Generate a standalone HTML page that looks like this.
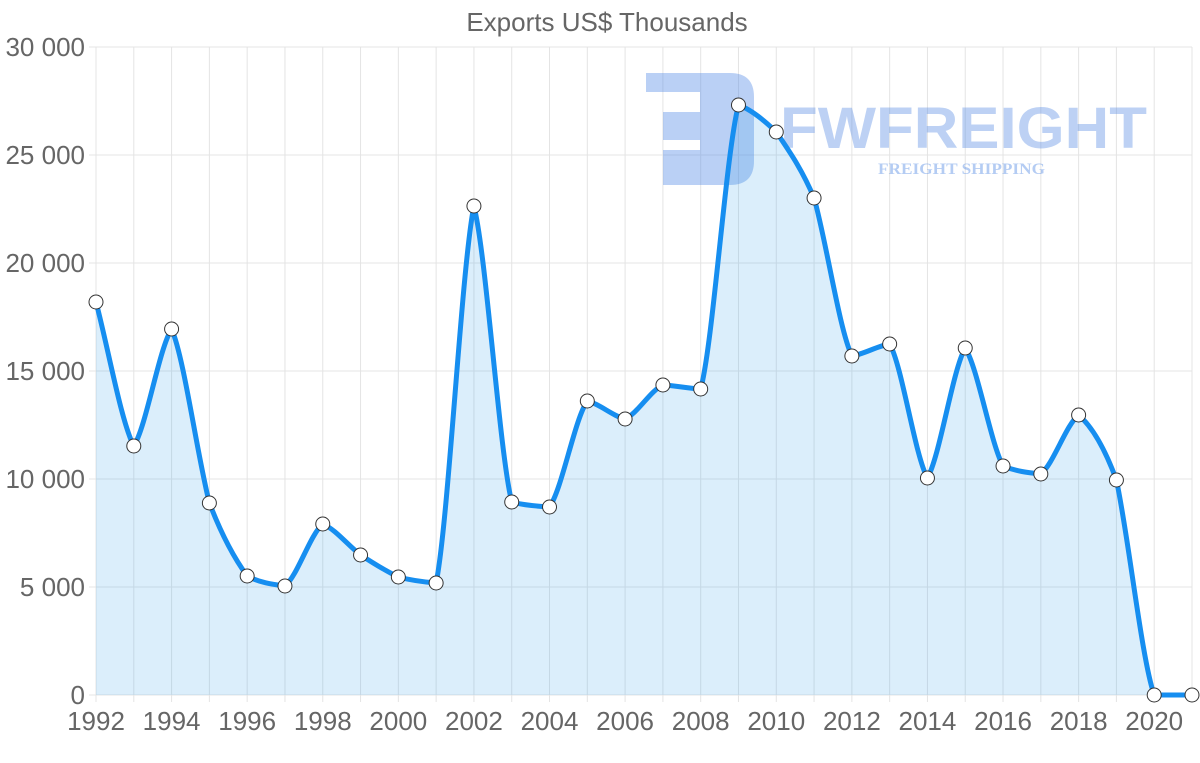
<!DOCTYPE html>
<html><head><meta charset="utf-8"><style>html,body{margin:0;padding:0;background:#fff}svg{display:block}</style></head>
<body>
<svg id="s" width="1200" height="763" xmlns="http://www.w3.org/2000/svg" font-family="Liberation Sans, sans-serif">
<rect width="1200" height="763" fill="#fff"/>
<text x="607" y="31" text-anchor="middle" font-size="26" fill="#666">Exports US$ Thousands</text>
<g stroke="#e4e4e4" stroke-width="1" id="grid"></g>
<g id="ylab" font-size="26" fill="#666" text-anchor="end"></g>
<g id="xlab" font-size="26" fill="#666" text-anchor="middle"></g>
<g fill="#5b8fe6" opacity="0.42">
<path d="M646 73 H730 Q754 73 754 97 V161 Q754 185 730 185 H663 V150 H700 V140 H663 V112 H700 V92 H646 Z"/>
</g>
<text x="780" y="148" font-size="58" font-weight="bold" fill="#5b8fe6" opacity="0.4" textLength="367" lengthAdjust="spacingAndGlyphs">FWFREIGHT</text>
<text x="878" y="174" font-size="16" font-weight="bold" font-family="Liberation Serif, serif" fill="#5b8fe6" opacity="0.45" textLength="167" lengthAdjust="spacingAndGlyphs">FREIGHT SHIPPING</text>
<path id="area" fill="rgba(54,162,235,0.18)"/>
<path id="line" fill="none" stroke="#168ef0" stroke-width="5" stroke-linejoin="round"/>
<g id="pts" fill="#fff" stroke="#333" stroke-width="1"></g>
</svg>
<script>
var ys=[302,446,329,503,576,586,524,555,577,583,206,502,507,401,419,385,389,105,132,198,356,344,478,348,466,474,415,480,695,695];
var ns="http://www.w3.org/2000/svg";
function el(p,t,a,txt){var e=document.createElementNS(ns,t);for(var k in a)e.setAttribute(k,a[k]);if(txt)e.textContent=txt;document.getElementById(p).appendChild(e);}
var dx=(1192-96)/29;
for(var i=0;i<30;i++){var x=96+i*dx;el('grid','line',{x1:x,y1:47,x2:x,y2:702});if(i%2==0)el('xlab','text',{x:x,y:730},String(1992+i));}
for(var j=0;j<=6;j++){var y=47+j*108;el('grid','line',{x1:89,y1:y,x2:1192,y2:y});var v=30-j*5;el('ylab','text',{x:85,y:y+9},v==0?'0':v+' 000');}
var X=function(i){return 96+i*dx;};
var n=30,dl=[],m=[];
for(var i=0;i<n-1;i++)dl.push((ys[i+1]-ys[i])/dx);
m[0]=dl[0];m[n-1]=dl[n-2];
for(var i=1;i<n-1;i++){m[i]=(dl[i-1]*dl[i]<=0)?0:(dl[i-1]+dl[i])/2;}
for(var i=0;i<n-1;i++){if(dl[i]==0){m[i]=0;m[i+1]=0;continue;}var a=m[i]/dl[i],b=m[i+1]/dl[i],s=a*a+b*b;if(s>9){var tt=3/Math.sqrt(s);m[i]=tt*a*dl[i];m[i+1]=tt*b*dl[i];}}
var d='M'+X(0)+' '+ys[0],w=0.5;
for(var i=0;i<n-1;i++){var h=dx/3,s1=w*m[i]+(1-w)*dl[i],s2=w*m[i+1]+(1-w)*dl[i];
 d+='C'+(X(i)+h).toFixed(1)+' '+(ys[i]+s1*h).toFixed(1)+' '+(X(i+1)-h).toFixed(1)+' '+(ys[i+1]-s2*h).toFixed(1)+' '+X(i+1).toFixed(1)+' '+ys[i+1];}
document.getElementById('line').setAttribute('d',d);
document.getElementById('area').setAttribute('d',d+'L1192 695L96 695Z');
for(var i=0;i<30;i++)el('pts','circle',{cx:X(i),cy:ys[i],r:7});
</script>
</body></html>
